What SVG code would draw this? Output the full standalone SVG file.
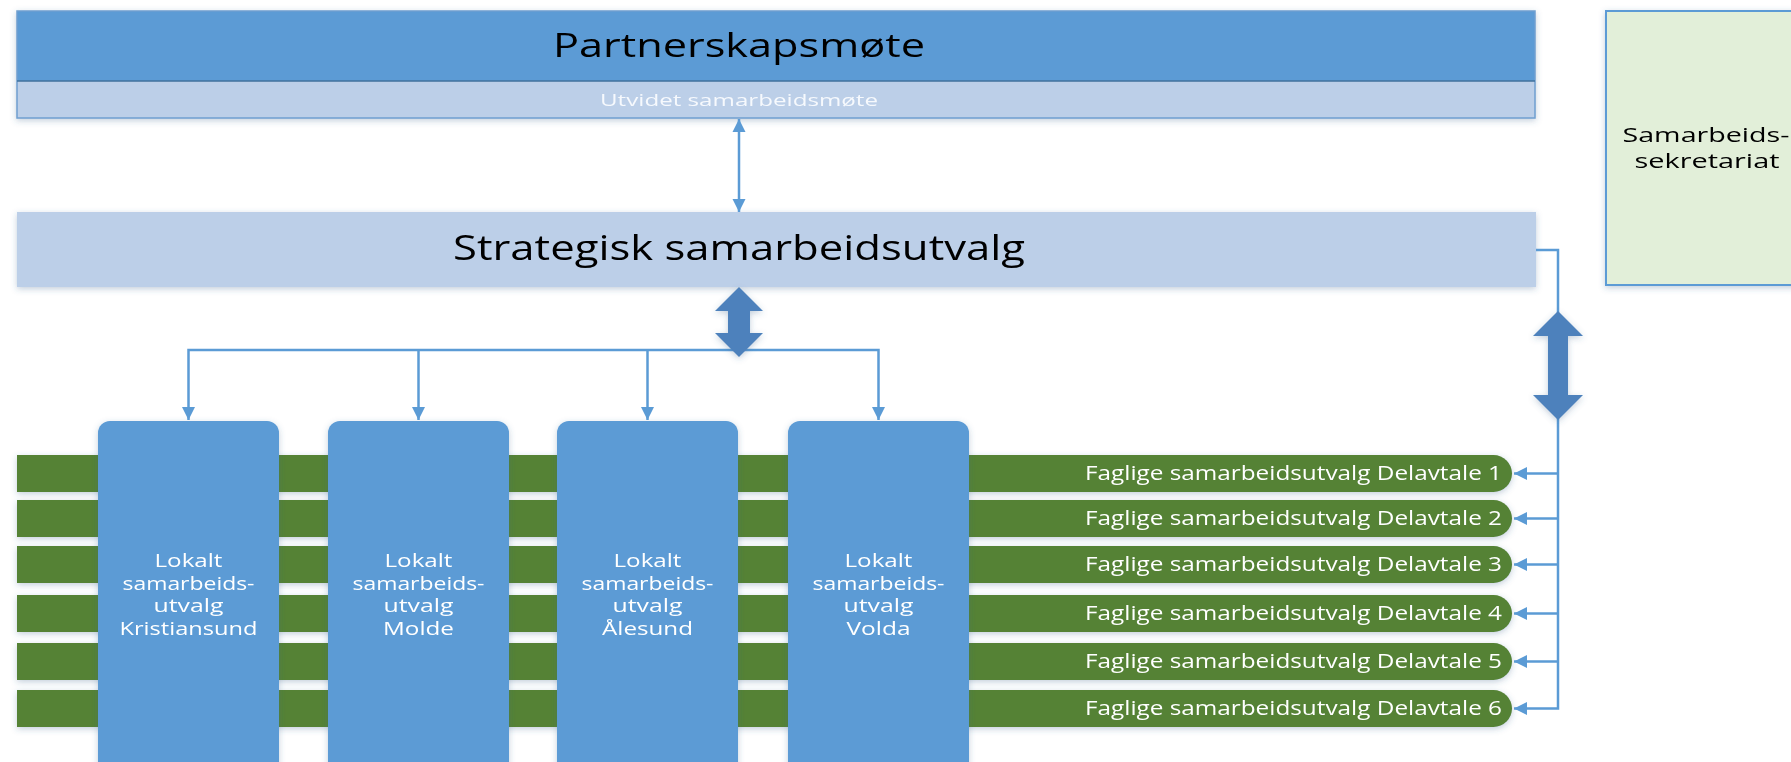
<svg xmlns="http://www.w3.org/2000/svg" width="1791" height="762" viewBox="0 0 1791 762">
<style>
text{font-family:"Open Sans","Noto Sans","Liberation Sans",sans-serif}
.thin{stroke:#5b9bd5;stroke-width:2.5;fill:none}
.bar{fill:#548235}
.bartxt{fill:#ffffff;font-size:20px;text-anchor:end}
.lok{fill:#5b9bd5}
.loktxt{fill:#ffffff;font-size:18px;text-anchor:middle}
.big{fill:#4e81bc}
</style>
<defs>
<filter id="sh" x="-5%" y="-20%" width="110%" height="140%">
<feDropShadow dx="0" dy="2" stdDeviation="3" flood-color="#3a5f8a" flood-opacity="0.3"/>
</filter>
<marker id="ah" markerUnits="userSpaceOnUse" markerWidth="14" markerHeight="14" refX="13" refY="7" orient="auto-start-reverse">
<path d="M0,0.5 L13,7 L0,13.5 z" fill="#5b9bd5"/>
</marker>
</defs>

<g id="partnerskapsmote" filter="url(#sh)">
<rect x="17" y="11" width="1518" height="70" fill="#5b9bd5"/>
<rect x="17" y="81" width="1518" height="37" fill="#bccfe8"/>
<rect x="17" y="11" width="1518" height="107" fill="none" stroke="#6f9fd0" stroke-width="1.5"/>
<line x1="17" y1="81" x2="1535" y2="81" stroke="#41719c" stroke-width="1.5"/>
<text x="739" y="57" font-size="32" fill="#000000" text-anchor="middle" textLength="372" lengthAdjust="spacingAndGlyphs">Partnerskapsmøte</text>
<text x="739" y="106" font-size="16" fill="#f6f9fd" text-anchor="middle" textLength="278" lengthAdjust="spacingAndGlyphs">Utvidet samarbeidsmøte</text>
</g>

<g id="sekretariat" filter="url(#sh)">
<rect x="1606" y="11" width="200" height="274" fill="#e2efd9" stroke="#5b9bd5" stroke-width="2"/>
<text x="1706" y="142" font-size="20" fill="#000000" text-anchor="middle" textLength="167" lengthAdjust="spacingAndGlyphs">Samarbeids-</text>
<text x="1707" y="168" font-size="20" fill="#000000" text-anchor="middle" textLength="145" lengthAdjust="spacingAndGlyphs">sekretariat</text>
</g>

<g id="strategisk" filter="url(#sh)">
<rect x="17" y="212" width="1519" height="75" fill="#bccfe8"/>
<text x="739" y="260" font-size="35" fill="#000000" text-anchor="middle" textLength="572" lengthAdjust="spacingAndGlyphs">Strategisk samarbeidsutvalg</text>
</g>

<g id="faglige" filter="url(#sh)">
<g id="delavtale1"><path class="bar" d="M17,455 H1493.5 A18.5,18.5 0 0 1 1493.5,492 H17 z"/><text class="bartxt" x="1502" y="480" textLength="417" lengthAdjust="spacingAndGlyphs">Faglige samarbeidsutvalg Delavtale 1</text></g>
<g id="delavtale2"><path class="bar" d="M17,500 H1493.5 A18.5,18.5 0 0 1 1493.5,537 H17 z"/><text class="bartxt" x="1502" y="525" textLength="417" lengthAdjust="spacingAndGlyphs">Faglige samarbeidsutvalg Delavtale 2</text></g>
<g id="delavtale3"><path class="bar" d="M17,546 H1493.5 A18.5,18.5 0 0 1 1493.5,583 H17 z"/><text class="bartxt" x="1502" y="571" textLength="417" lengthAdjust="spacingAndGlyphs">Faglige samarbeidsutvalg Delavtale 3</text></g>
<g id="delavtale4"><path class="bar" d="M17,595 H1493.5 A18.5,18.5 0 0 1 1493.5,632 H17 z"/><text class="bartxt" x="1502" y="620" textLength="417" lengthAdjust="spacingAndGlyphs">Faglige samarbeidsutvalg Delavtale 4</text></g>
<g id="delavtale5"><path class="bar" d="M17,643 H1493.5 A18.5,18.5 0 0 1 1493.5,680 H17 z"/><text class="bartxt" x="1502" y="668" textLength="417" lengthAdjust="spacingAndGlyphs">Faglige samarbeidsutvalg Delavtale 5</text></g>
<g id="delavtale6"><path class="bar" d="M17,690 H1493.5 A18.5,18.5 0 0 1 1493.5,727 H17 z"/><text class="bartxt" x="1502" y="715" textLength="417" lengthAdjust="spacingAndGlyphs">Faglige samarbeidsutvalg Delavtale 6</text></g>
</g>

<g id="lokalt-kristiansund" filter="url(#sh)">
<rect class="lok" x="98" y="421" width="181" height="360" rx="12"/>
<text class="loktxt" x="188.5" y="567" textLength="68" lengthAdjust="spacingAndGlyphs">Lokalt</text>
<text class="loktxt" x="188.5" y="589.5" textLength="132" lengthAdjust="spacingAndGlyphs">samarbeids-</text>
<text class="loktxt" x="188.5" y="612" textLength="70" lengthAdjust="spacingAndGlyphs">utvalg</text>
<text class="loktxt" x="188.5" y="634.5" textLength="138" lengthAdjust="spacingAndGlyphs">Kristiansund</text>
</g>
<g id="lokalt-molde" filter="url(#sh)">
<rect class="lok" x="328" y="421" width="181" height="360" rx="12"/>
<text class="loktxt" x="418.5" y="567" textLength="68" lengthAdjust="spacingAndGlyphs">Lokalt</text>
<text class="loktxt" x="418.5" y="589.5" textLength="132" lengthAdjust="spacingAndGlyphs">samarbeids-</text>
<text class="loktxt" x="418.5" y="612" textLength="70" lengthAdjust="spacingAndGlyphs">utvalg</text>
<text class="loktxt" x="418.5" y="634.5" textLength="71" lengthAdjust="spacingAndGlyphs">Molde</text>
</g>
<g id="lokalt-alesund" filter="url(#sh)">
<rect class="lok" x="557" y="421" width="181" height="360" rx="12"/>
<text class="loktxt" x="647.5" y="567" textLength="68" lengthAdjust="spacingAndGlyphs">Lokalt</text>
<text class="loktxt" x="647.5" y="589.5" textLength="132" lengthAdjust="spacingAndGlyphs">samarbeids-</text>
<text class="loktxt" x="647.5" y="612" textLength="70" lengthAdjust="spacingAndGlyphs">utvalg</text>
<text class="loktxt" x="647.5" y="634.5" textLength="91" lengthAdjust="spacingAndGlyphs">Ålesund</text>
</g>
<g id="lokalt-volda" filter="url(#sh)">
<rect class="lok" x="788" y="421" width="181" height="360" rx="12"/>
<text class="loktxt" x="878.5" y="567" textLength="68" lengthAdjust="spacingAndGlyphs">Lokalt</text>
<text class="loktxt" x="878.5" y="589.5" textLength="132" lengthAdjust="spacingAndGlyphs">samarbeids-</text>
<text class="loktxt" x="878.5" y="612" textLength="70" lengthAdjust="spacingAndGlyphs">utvalg</text>
<text class="loktxt" x="878.5" y="634.5" textLength="64" lengthAdjust="spacingAndGlyphs">Volda</text>
</g>

<g id="connectors">
<line class="thin" x1="739" y1="119" x2="739" y2="212" marker-start="url(#ah)" marker-end="url(#ah)"/>
<polyline class="thin" points="188.5,420 188.5,350 878.5,350 878.5,420" marker-start="url(#ah)" marker-end="url(#ah)"/>
<line class="thin" x1="418.5" y1="350" x2="418.5" y2="420" marker-end="url(#ah)"/>
<line class="thin" x1="647.5" y1="350" x2="647.5" y2="420" marker-end="url(#ah)"/>
<polyline class="thin" points="1536,250 1558,250 1558,708.5 1514,708.5" marker-end="url(#ah)"/>
<line class="thin" x1="1558" y1="473.5" x2="1514" y2="473.5" marker-end="url(#ah)"/>
<line class="thin" x1="1558" y1="518.5" x2="1514" y2="518.5" marker-end="url(#ah)"/>
<line class="thin" x1="1558" y1="564.5" x2="1514" y2="564.5" marker-end="url(#ah)"/>
<line class="thin" x1="1558" y1="613.5" x2="1514" y2="613.5" marker-end="url(#ah)"/>
<line class="thin" x1="1558" y1="661.5" x2="1514" y2="661.5" marker-end="url(#ah)"/>
<g filter="url(#sh)">
<polygon class="big" points="739,287 763,311 750,311 750,333 763,333 739,357 715,333 728,333 728,311 715,311"/>
<polygon class="big" points="1558,311 1583,336 1568,336 1568,395 1583,395 1558,420 1533,395 1548,395 1548,336 1533,336"/>
</g>
</g>
</svg>
